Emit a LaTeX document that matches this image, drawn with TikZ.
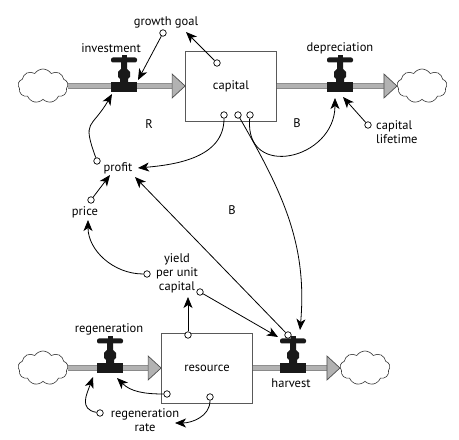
\documentclass[tikz,border=0pt]{standalone}
\usepackage{fontspec}
\setmainfont{PT Sans}
\usetikzlibrary{arrows.meta,shapes.symbols}

\tikzset{
  stock/.style={draw=black!65, line width=0.8pt, minimum width=91pt, minimum height=70pt,
    font=\fontsize{12.5}{14}\selectfont},
  txt/.style={inner sep=0pt, align=center, font=\fontsize{12.5}{14}\selectfont},
  cloudy/.style={cloud, cloud puffs=9, cloud puff arc=115, cloud ignores aspect, draw=black!80,
    line width=0.6pt, fill=white, minimum width=50pt, minimum height=34pt, inner sep=0pt},
  pipe/.style={draw=black!70, double=gray!60, double distance=4pt, line width=0.7pt, shorten >=12pt},
  pipehead/.style={fill=gray!60, draw=black!70, line width=0.7pt, line join=miter},
  port/.style={circle, draw, fill=white, line width=0.7pt, inner sep=0pt, minimum size=6.5pt},
  link/.style={-{Stealth[length=11pt,width=9pt,inset=3pt]}, line width=0.8pt},
  valvebody/.style={fill=black!90, minimum width=26pt, minimum height=10pt, inner sep=0pt},
  valve/.pic={
    \node[valvebody] (-body) at (0,0) {};
    \fill[black!90] (-4,5) -- (-4,8) -- (-6,10) -- (-6,15) -- (-3,18) -- (-3,25)
      -- (3,25) -- (3,18) -- (6,15) -- (6,10) -- (4,8) -- (4,5) -- cycle;
    \fill[black!90, rounded corners=2pt] (-13,24.5) rectangle (13,29.5);
    \fill[black!90] (-2.5,29) rectangle (2.5,31.5);
  }
}

\begin{document}
\begin{tikzpicture}[x=1pt,y=1pt]
  \useasboundingbox (0,0) rectangle (459,440);

  % stocks and clouds
  \node[stock] at (231,354) (capital) {capital};
  \node[stock] at (207,72) (resource) {resource};
  \node[cloudy] at (43,354) (srcA) {};
  \node[cloudy] at (422,354) (sinkA) {};
  \node[cloudy] at (43,72) (srcB) {};
  \node[cloudy] at (365,72) (sinkB) {};

  % flows
  \draw[pipe] (srcA.east) -- (capital.west);
  \filldraw[pipehead] (capital.west) -- ++(-13,12) -- ++(0,-24) -- cycle;
  \draw[pipe] (capital.east) -- (sinkA.west);
  \filldraw[pipehead] (sinkA.west) -- ++(-13,12) -- ++(0,-24) -- cycle;
  \draw[pipe] (srcB.east) -- (resource.west);
  \filldraw[pipehead] (resource.west) -- ++(-13,12) -- ++(0,-24) -- cycle;
  \draw[pipe] (resource.east) -- (sinkB.west);
  \filldraw[pipehead] (sinkB.west) -- ++(-13,12) -- ++(0,-24) -- cycle;

  \pic (inv) at (124,353) {valve};
  \pic (dep) at (340,353) {valve};
  \pic (reg) at (110,72) {valve};
  \pic (harv) at (293,72) {valve};

  % labels
  \node[txt] at (111,392) (investment) {investment};
  \node[txt] at (166,418) (goal) {growth goal};
  \node[txt] at (340,392) (depreciation) {depreciation};
  \node[txt, anchor=west, align=left] at (376,308) (lifetime) {capital\\lifetime};
  \node[txt] at (149,316) (loopR) {R};
  \node[txt] at (297,317) (loopB) {B};
  \node[txt] at (118,272) (profit) {profit};
  \node[txt] at (85,228) (price) {price};
  \node[txt] at (232,230) (loopB2) {B};
  \node[txt] at (177,167) (yield) {yield\\per unit\\capital};
  \node[txt] at (109,111) (regeneration) {regeneration};
  \node[txt] at (291,57) (harvest) {harvest};
  \node[txt] at (145,20) (rate) {regeneration\\rate};

  % ports
  \node[port] at (163,407) (goalc) {};
  \node[port] at (217,377) (capG) {};
  \node[port] at (224,325) (cap1) {};
  \node[port] at (238,325) (cap2) {};
  \node[port] at (250,325) (cap3) {};
  \node[port] at (368,315) (lifec) {};
  \node[port] at (97,279) (profc) {};
  \node[port] at (91,240) (pricec) {};
  \node[port] at (147,166) (yieldc1) {};
  \node[port] at (200,148) (yieldc2) {};
  \node[port] at (288,105) (harvc) {};
  \node[port] at (188,105) (resT) {};
  \node[port] at (167,46) (resL) {};
  \node[port] at (210,43) (resB) {};
  \node[port] at (100,27) (ratec) {};

  \coordinate (goaltip) at (186,408);
  \coordinate (invtip1) at (138,360);
  \coordinate (invtip2) at (112,346);
  \coordinate (deptip1) at (335,342);
  \coordinate (deptip2) at (343,343);
  \coordinate (harvtip1) at (300,110);
  \coordinate (harvtip2) at (278,103);
  \coordinate (regtip1) at (117,62);
  \coordinate (regtip2) at (93,63);
  \coordinate (proftip1) at (138,272);
  \coordinate (proftip2) at (135,263);
  \coordinate (proftip3) at (110,265);
  \coordinate (pricetip) at (88,220);
  \coordinate (yieldtip) at (188,143);
  \coordinate (ratetip) at (175,17);

  % information links
  \path[link]
  (goalc) edge (invtip1)
  (capG) edge (goaltip)
  (profc) edge [out=110, in=240, looseness=1.6] (invtip2)
  (cap1) edge [out=-90, in=5] (proftip1)
  (cap3) edge [out=-95, in=-90, looseness=1.8] (deptip1)
  (lifec) edge (deptip2)
  (cap2) edge [out=-60, in=85] (harvtip1)
  (harvc) edge (proftip2)
  (pricec) edge (proftip3)
  (yieldc1) edge [out=180, in=-90] (pricetip)
  (yieldc2) edge (harvtip2)
  (resT) edge (yieldtip)
  (resL) edge [out=180, in=-45] (regtip1)
  (resB) edge [out=-90, in=0] (ratetip)
  (ratec) edge [out=170, in=-110, looseness=1.3] (regtip2);
\end{tikzpicture}
\end{document}
